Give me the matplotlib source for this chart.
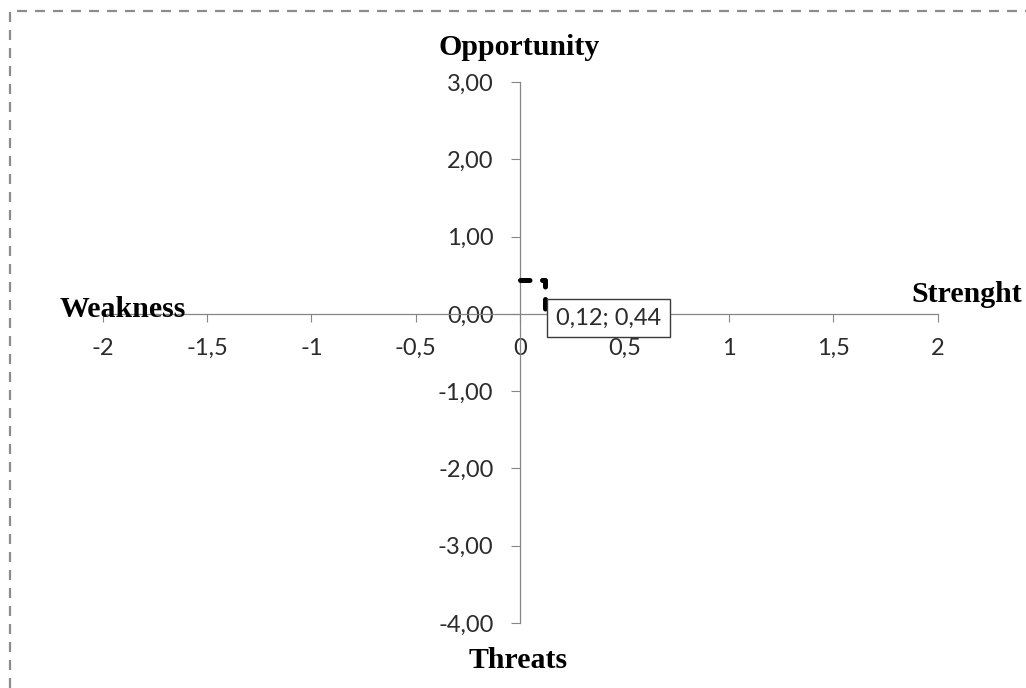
import matplotlib
matplotlib.use('Agg')
import matplotlib.pyplot as plt
from matplotlib.lines import Line2D

# SWOT position: x = strength - weakness, y = opportunity - threats
x_vals = [0, 0.12, 0.12]
y_vals = [0.44, 0.44, 0]
point_x = 0.12
point_y = 0.44

x_ticks = [-2, -1.5, -1, -0.5, 0, 0.5, 1, 1.5, 2]
x_tick_labels = ['-2', '-1,5', '-1', '-0,5', '0', '0,5', '1', '1,5', '2']
y_ticks = [3, 2, 1, 0, -1, -2, -3, -4]
y_tick_labels = ['3,00', '2,00', '1,00', '0,00', '-1,00', '-2,00', '-3,00', '-4,00']

W, H = 1026, 688
axis_color = '#868686'
text_color = '#2b2b2b'
tick_font = 'Lato'
title_font = 'Liberation Serif'


def px(x, y):
    """pixel position (from top-left) -> figure fraction"""
    return x / W, 1 - y / H


fig = plt.figure(figsize=(W / 100, H / 100), dpi=100)
fig.patch.set_facecolor('white')

ax = fig.add_axes([102.7 / W, (H - 623) / H, 835 / W, (623 - 82) / H])
ax.set_xlim(-2, 2)
ax.set_ylim(-4, 3)
ax.patch.set_alpha(0)

# axes cross at the origin
for side in ['top', 'right']:
    ax.spines[side].set_visible(False)
ax.spines['left'].set_position(('data', 0))
ax.spines['bottom'].set_position(('data', 0))
for side in ['left', 'bottom']:
    ax.spines[side].set_color(axis_color)
    ax.spines[side].set_linewidth(0.9)

ax.set_xticks(x_ticks)
ax.set_xticklabels(x_tick_labels, fontfamily=tick_font, fontsize=17, color=text_color)
ax.set_yticks(y_ticks)
ax.set_yticklabels(y_tick_labels, fontfamily=tick_font, fontsize=17, color=text_color)
ax.tick_params(axis='x', direction='out', length=5.8, width=0.8, color=axis_color, pad=11.5)
ax.tick_params(axis='y', direction='out', length=6.3, width=0.8, color=axis_color, pad=13)

# position line
ax.plot(x_vals, y_vals, color='black', lw=3.6, linestyle=(0, (1.9, 2.5)),
        dash_capstyle='round', solid_joinstyle='round', zorder=5, clip_on=False)

label = f"{point_x:.2f}; {point_y:.2f}".replace('.', ',')
ax.annotate(label, xy=(x_vals[-1], y_vals[-1]), xytext=(8, -3),
            textcoords='offset points', ha='left', va='center',
            fontfamily=tick_font, fontsize=17, color=text_color, zorder=6,
            bbox=dict(boxstyle='square,pad=0.38', facecolor='white',
                      edgecolor='#3a3a3a', linewidth=1.0))

# quadrant titles
title_kw = dict(fontfamily=title_font, fontweight='bold', fontsize=21.5, color='black')
fig.text(*px(519, 55), 'Opportunity', ha='center', va='baseline', **title_kw)
fig.text(*px(518, 668), 'Threats', ha='center', va='baseline', **title_kw)
fig.text(*px(60, 317), 'Weakness', ha='left', va='baseline', **title_kw)
fig.text(*px(1022, 302), 'Strenght', ha='right', va='baseline', **title_kw)

# dashed frame around the chart area
x0, y0 = px(10, 11)
frame = Line2D([x0, x0, 1.0], [0.0, y0, y0], transform=fig.transFigure,
               color='#8c8c8c', lw=1.6, linestyle=(0, (4.5, 3.6)))
fig.add_artist(frame)

fig.savefig('out.png', dpi=100, facecolor='white')
plt.close(fig)
